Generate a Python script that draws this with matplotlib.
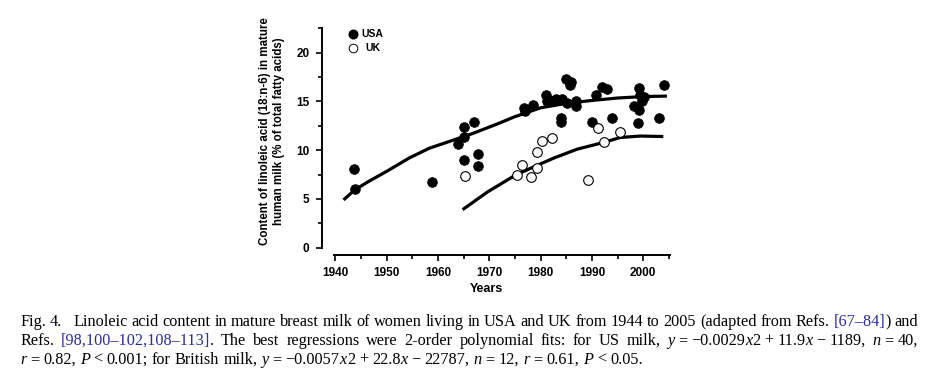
import matplotlib
matplotlib.use("Agg")
import matplotlib.pyplot as plt
from matplotlib.transforms import IdentityTransform

# ---------------- data ----------------
usa_year = [1943.7, 1943.9, 1958.8, 1963.8, 1965.0, 1965.0, 1965.0, 1967.0, 1967.8, 1967.8,
            1976.8, 1977.0, 1978.5, 1981.0, 1981.3, 1982.9, 1983.9, 1983.9, 1984.1, 1984.9,
            1985.2, 1985.8, 1986.0, 1986.8, 1986.9, 1990.0, 1990.7, 1992.0, 1993.0, 1993.9,
            1998.1, 1999.1, 1999.3, 1999.7, 1999.1, 1999.0, 2000.1, 2003.0, 2004.0, 1982.0]
usa_val = [8.1, 6.0, 6.7, 10.6, 12.4, 11.35, 9.0, 12.9, 9.6, 8.4,
           14.3, 14.0, 14.6, 15.7, 15.0, 15.3, 13.3, 12.9, 15.2, 17.3,
           14.8, 16.7, 17.0, 15.0, 14.5, 12.9, 15.7, 16.5, 16.3, 13.3,
           14.5, 16.35, 15.7, 15.0, 14.1, 12.75, 15.5, 13.3, 16.7, 15.0]

uk_year = [1965.2, 1975.3, 1976.3, 1978.1, 1979.2, 1979.2, 1980.2, 1982.3, 1989.2, 1991.2,
           1992.3, 1995.4]
uk_val = [7.4, 7.45, 8.45, 7.2, 8.2, 9.8, 10.9, 11.3, 6.9, 12.25, 10.85, 11.9]

usa_fit_year = [1941.6, 1943.7, 1946.5, 1949.9, 1954.4, 1958.3, 1962.8, 1966.7, 1971.6,
                1974.8, 1980.0, 1985.0, 1990.0, 1995.0, 2000.0, 2004.6]
usa_fit_val = [4.9, 5.9, 6.8, 7.8, 9.2, 10.2, 11.0, 11.7, 12.7,
               13.4, 14.35, 14.8, 15.1, 15.35, 15.5, 15.55]

uk_fit_year = [1964.8, 1969.6, 1975.1, 1978.7, 1982.6, 1987.1, 1992.3, 1995.5, 1999.4, 2003.9]
uk_fit_val = [3.9, 5.7, 7.45, 8.3, 9.2, 10.1, 10.8, 11.3, 11.45, 11.4]

x_ticks = [1940, 1950, 1960, 1970, 1980, 1990, 2000]
y_ticks = [0, 5, 10, 15, 20]

legend_labels = ["USA", "UK"]
y_label = "Content of linoleic acid (18:n-6) in mature\nhuman milk (% of total fatty acids)"
x_label = "Years"

caption_lines = [
    "Fig. 4.~~ Linoleic acid content in mature breast milk of women living in USA and UK from 1944 to 2005 (adapted from Refs. @[67–84]@) and",
    "Refs. @[98,100–102,108–113]@. The best regressions were 2-order polynomial fits: for US milk, _y_~=~−0.0029_x_2~+~11.9_x_~−~1189, _n_~=~40,",
    "_r_~=~0.82, _P_~<~0.001; for British milk, _y_~=~−0.0057_x_2~+~22.8_x_~−~22787, _n_~=~12, _r_~=~0.61, _P_~<~0.05.",
]

# ---------------- figure ----------------
W, H, DPI = 936, 378, 100
fig = plt.figure(figsize=(W / DPI, H / DPI), dpi=DPI, facecolor="white")
SANS = ["Liberation Sans", "DejaVu Sans"]
SERIF = ["Liberation Serif", "DejaVu Serif"]

ax = fig.add_axes([322 / W, 1 - 255 / H, (670 - 322) / W, (255 - 28.3) / H])
ax.set_xlim(1937.4, 2005.2)
ax.set_ylim(-0.75, 22.5)
for s in ["top", "right"]:
    ax.spines[s].set_visible(False)
ax.spines["left"].set_bounds(0, 22.5)
ax.spines["bottom"].set_bounds(1939.7, 2005.2)
for s in ["left", "bottom"]:
    ax.spines[s].set_linewidth(1.4)

ax.set_xticks(x_ticks)
ax.set_xticks([t + 5 for t in x_ticks], minor=True)
ax.set_yticks(y_ticks)
ax.set_yticks([t + 2.5 for t in y_ticks], minor=True)
ax.set_xticklabels([str(t) for t in x_ticks])
ax.set_yticklabels([str(t) for t in y_ticks])
ax.tick_params(which="major", direction="out", length=4, width=1.2, pad=5)
ax.tick_params(which="minor", direction="out", length=3, width=1.2)
for lab in ax.get_xticklabels() + ax.get_yticklabels():
    lab.set_fontfamily(SANS)
    lab.set_fontweight("bold")
    lab.set_fontsize(8.5)

ax.plot(usa_fit_year, usa_fit_val, color="black", lw=2.3, solid_capstyle="butt",
        solid_joinstyle="round", zorder=2, clip_on=False)
ax.plot(uk_fit_year, uk_fit_val, color="black", lw=2.3, solid_capstyle="butt",
        solid_joinstyle="round", zorder=2, clip_on=False)
ax.scatter(usa_year, usa_val, s=48, facecolor="black", edgecolor="black", lw=0.6,
           zorder=3, clip_on=False)
ax.scatter(uk_year, uk_val, s=48, facecolor="white", edgecolor="black", lw=0.8,
           zorder=4, clip_on=False)

# legend (manual)
ident = IdentityTransform()
fig.add_artist(plt.Line2D([353], [H - 34.3], marker="o", ms=6.2, mfc="black", mec="black",
                          transform=ident))
fig.add_artist(plt.Line2D([353], [H - 47.7], marker="o", ms=6.2, mfc="white", mec="black",
                          mew=0.7, transform=ident))
fig.text(361, H - 34.3, legend_labels[0], transform=ident, fontfamily=SANS, fontweight="bold",
         fontsize=7.5, va="center", ha="left")
fig.text(365.5, H - 47.7, legend_labels[1], transform=ident, fontfamily=SANS, fontweight="bold",
         fontsize=7.5, va="center", ha="left")

# axis labels
fig.text(272, H - 131, y_label, transform=ident, rotation=90, ha="center", va="center",
         multialignment="center", fontfamily=SANS, fontweight="bold", fontsize=8.3,
         linespacing=1.15)
fig.text(486, H - 289, x_label, transform=ident, ha="center", va="center",
         fontfamily=SANS, fontweight="bold", fontsize=9)

# ---------------- caption (rich, justified) ----------------
BLUE = "#2b2b9c"
CAP_SIZE0 = 10.0


def parse_word(w):
    pieces = []
    italic = False
    blue = False
    buf = ""

    def flush():
        nonlocal buf
        if buf:
            pieces.append(("txt", buf, italic, blue))
            buf = ""

    for ch in w:
        if ch == "_":
            flush(); italic = not italic
        elif ch == "@":
            flush(); blue = not blue
        elif ch == "~":
            flush(); pieces.append(("gap", 0.24, False, False))  # in em
        else:
            buf += ch
    flush()
    return pieces


renderer = fig.canvas.get_renderer()


def make_text(s, italic, blue):
    return fig.text(0, 0, s, transform=ident, fontfamily=SERIF, fontsize=CAP_SIZE0,
                    style="italic" if italic else "normal",
                    color=BLUE if blue else "black", ha="left", va="baseline")


cap_x0, cap_x1 = 20, 918
cap_base = [H - 326, H - 345, H - 364]

# build texts
all_lines = []
for line in caption_lines:
    words = []
    for w in line.split(" "):
        pcs = []
        for kind, val, it, bl in parse_word(w):
            if kind == "gap":
                pcs.append(("gap", val))
            else:
                pcs.append(("txt", make_text(val, it, bl)))
        words.append(pcs)
    all_lines.append(words)


def measure(words, size):
    em = size * DPI / 72
    res = []
    for pcs in words:
        items = []
        ww = 0
        for kind, obj in pcs:
            if kind == "gap":
                ww += obj * em
            else:
                items.append((obj, ww))
                ww += obj.get_window_extent(renderer).width
        res.append((items, ww))
    return res


# choose size so that line 1 fits the width with ordinary spaces
m0 = measure(all_lines[0], CAP_SIZE0)
T0 = sum(w for _, w in m0)
n0 = len(m0) - 1
per_pt = T0 / CAP_SIZE0 + n0 * 0.25 * DPI / 72
cap_size = min(898 / per_pt, 13.0)
for words in all_lines:
    for pcs in words:
        for kind, obj in pcs:
            if kind == "txt":
                obj.set_fontsize(cap_size)

space_w = 0.25 * cap_size * DPI / 72
for li, words in enumerate(all_lines):
    placed = measure(words, cap_size)
    total = sum(w for _, w in placed)
    n_gaps = len(placed) - 1
    if li < len(all_lines) - 1:
        gap = (cap_x1 - cap_x0 - total) / n_gaps
    else:
        gap = space_w
    x = cap_x0
    for items, ww in placed:
        for t, off in items:
            t.set_position((x + off, cap_base[li]))
        x += ww + gap

fig.savefig("out.png", dpi=DPI, facecolor="white")
